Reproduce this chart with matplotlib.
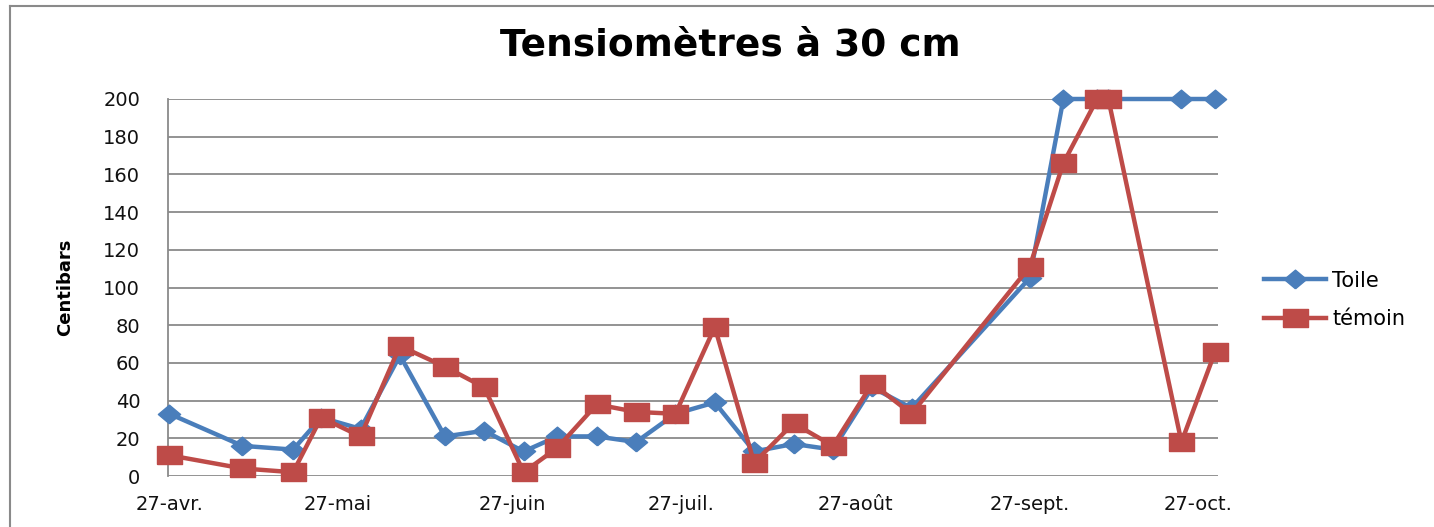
import numpy as np
import matplotlib
matplotlib.use("Agg")
import matplotlib.pyplot as plt
from matplotlib.path import Path
from matplotlib.lines import Line2D

# Dates des relevés (année arbitraire)
dates = np.array(['2011-04-27', '2011-05-10', '2011-05-19', '2011-05-24', '2011-05-31',
                  '2011-06-07', '2011-06-15', '2011-06-22', '2011-06-29', '2011-07-05',
                  '2011-07-12', '2011-07-19', '2011-07-26', '2011-08-02', '2011-08-09',
                  '2011-08-16', '2011-08-23', '2011-08-30', '2011-09-06', '2011-09-27',
                  '2011-10-03', '2011-10-09', '2011-10-11', '2011-10-24', '2011-10-30'],
                 dtype='datetime64[D]')

toile = [33, 16, 14, 31, 25, 64, 21, 24, 13, 21,
         21, 18, 33, 39, 13, 17, 14, 47, 36, 105,
         200, 200, 200, 200, 200]
temoin = [11, 4, 2, 31, 21, 69, 58, 47, 2, 15,
          38, 34, 33, 79, 7, 28, 16, 49, 33, 111,
          166, 200, 200, 18, 66]

tick_dates = np.array(['2011-04-27', '2011-05-27', '2011-06-27', '2011-07-27',
                       '2011-08-27', '2011-09-27', '2011-10-27'], dtype='datetime64[D]')
tick_labels = ['27-avr.', '27-mai', '27-juin', '27-juil.', '27-août', '27-sept.', '27-oct.']
y_ticks = np.arange(0, 201, 20)

blue = '#4A7EBB'
red = '#BE4B48'

# marqueurs un peu plus larges que hauts, comme sur l'original
diamond = Path([(0, -0.42), (0.5, 0), (0, 0.42), (-0.5, 0), (0, -0.42)])
rect = Path([(-0.5, -0.35), (0.5, -0.35), (0.5, 0.35), (-0.5, 0.35), (-0.5, -0.35)])

fig = plt.figure(figsize=(14.34, 5.27), dpi=100)
ax = fig.add_axes([168 / 1434, 51 / 527, 1050 / 1434, 377 / 527])

ax.plot(dates, toile, color=blue, lw=3.2, marker=diamond, ms=16, clip_on=False,
        zorder=3, label='Toile')
ax.plot(dates, temoin, color=red, lw=3.2, marker=rect, ms=18, clip_on=False,
        zorder=4, label='témoin')

ax.set_ylim(0, 200)
ax.set_yticks(y_ticks)
ax.set_xlim(np.datetime64('2011-04-27') - np.timedelta64(6, 'h'),
            np.datetime64('2011-10-30') + np.timedelta64(12, 'h'))
ax.set_xticks(tick_dates)
ax.set_xticklabels(tick_labels, fontsize=14.5)

ax.grid(axis='y', color='#8a8a8a', lw=1.3)
ax.set_axisbelow(True)
for s in ['top', 'right', 'bottom']:
    ax.spines[s].set_visible(False)
ax.spines['left'].set_color('#8a8a8a')
ax.spines['left'].set_linewidth(1.3)
ax.tick_params(axis='both', length=0, labelsize=14, colors='#111111')
ax.tick_params(axis='y', pad=20)
ax.tick_params(axis='x', pad=14)

ax.set_ylabel('Centibars', fontsize=13, fontweight='bold')
ax.yaxis.set_label_coords(-94 / 1050, 0.5)

fig.text(0.509, 0.914, 'Tensiomètres à 30 cm', ha='center', va='center',
         fontsize=27, fontweight='bold')

handles = [Line2D([], [], color=blue, lw=3.2, marker=diamond, ms=16),
           Line2D([], [], color=red, lw=3.2, marker=rect, ms=18)]
fig.legend(handles, ['Toile', 'témoin'], loc='center left',
           bbox_to_anchor=(1245 / 1434, 1 - 300 / 527), frameon=False,
           fontsize=15, handlelength=3.0, handletextpad=0.3, labelspacing=0.9)

# cadre partiel de la capture
fig.add_artist(Line2D([10 / 1434, 10 / 1434], [0, 1 - 5.5 / 527], color='#8a8a8a', lw=1.5))
fig.add_artist(Line2D([10 / 1434, 1], [1 - 5.5 / 527, 1 - 5.5 / 527], color='#8a8a8a', lw=1.5))

fig.savefig('out.png', dpi=100)
